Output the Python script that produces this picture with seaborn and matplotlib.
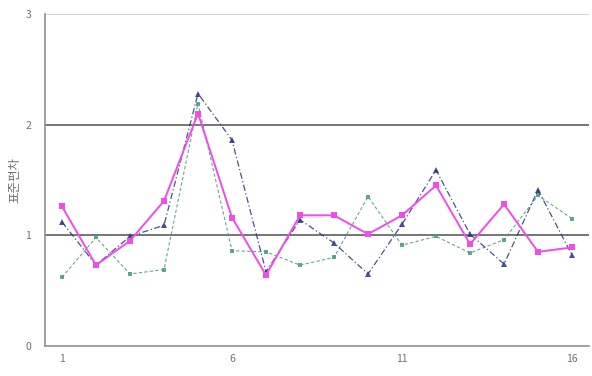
import numpy as np
import pandas as pd
import matplotlib
matplotlib.use("Agg")
import matplotlib.pyplot as plt
import seaborn as sns

x = list(range(1, 17))
pink = [1.26, 0.73, 0.95, 1.31, 2.10, 1.16, 0.64, 1.18, 1.18, 1.01, 1.18, 1.45, 0.92, 1.28, 0.85, 0.89]
navy = [1.12, 0.73, 0.99, 1.09, 2.28, 1.86, 0.67, 1.14, 0.93, 0.65, 1.10, 1.59, 1.01, 0.74, 1.41, 0.82]
green = [0.62, 0.98, 0.65, 0.69, 2.19, 0.86, 0.85, 0.73, 0.80, 1.35, 0.91, 0.99, 0.84, 0.96, 1.36, 1.15]
xtick_labels = ["1", "6", "11", "16"]
ytick_labels = ["0", "1", "2", "3"]
ylabel = "표준편차"

sns.set_style("white")
plt.rcParams['font.family'] = ['Noto Sans CJK KR', 'DejaVu Sans']

fig = plt.figure(figsize=(5.92, 3.76), dpi=100)
ax = fig.add_axes([0.076, 0.080, 0.919, 0.883])

df = pd.DataFrame({"x": x, "pink": pink, "navy": navy, "green": green})

sns.lineplot(data=df, x="x", y="green", ax=ax, color="#4a9a78", linewidth=0.8, alpha=0.85,
             linestyle=(0, (3, 2)), marker="s", markersize=3.5, markeredgewidth=0)
sns.lineplot(data=df, x="x", y="navy", ax=ax, color="#27357a", linewidth=0.9, alpha=0.85,
             linestyle=(0, (5, 2, 1, 2)), marker="^", markersize=4.5, markeredgewidth=0)
sns.lineplot(data=df, x="x", y="pink", ax=ax, color="#f04ce8", linewidth=1.4,
             linestyle="-", marker="s", markersize=5, markeredgewidth=0)

for yv in [1, 2]:
    ax.axhline(yv, color="#6a6a6a", linewidth=1.3, zorder=0)
ax.axhline(3, color="#cccccc", linewidth=1.2, zorder=0)

ax.set_xlim(0.5, 16.5)
ax.set_ylim(0, 3)
ax.set_yticks([0, 1, 2, 3])
ax.set_yticklabels(ytick_labels, fontsize=7.5, color="#707070")
ax.set_xticks([1, 6, 11, 16])
ax.set_xticklabels(xtick_labels, fontsize=7.5, color="#707070")
ax.set_xticks(np.arange(1.5, 16.5, 1), minor=True)
ax.tick_params(axis="x", which="major", length=0, pad=6)
ax.tick_params(axis="x", which="minor", length=3, direction="inout", color="#909090")
ax.tick_params(axis="y", length=0, pad=10)
ax.set_xlabel("")
ax.set_ylabel(ylabel, fontsize=9, color="#707070", labelpad=3)

for s in ["top", "right"]:
    ax.spines[s].set_visible(False)
ax.spines["left"].set_color("#909090")
ax.spines["bottom"].set_color("#909090")
ax.spines["left"].set_linewidth(1.2)
ax.spines["bottom"].set_linewidth(1.2)

fig.savefig("out.png", dpi=100)
